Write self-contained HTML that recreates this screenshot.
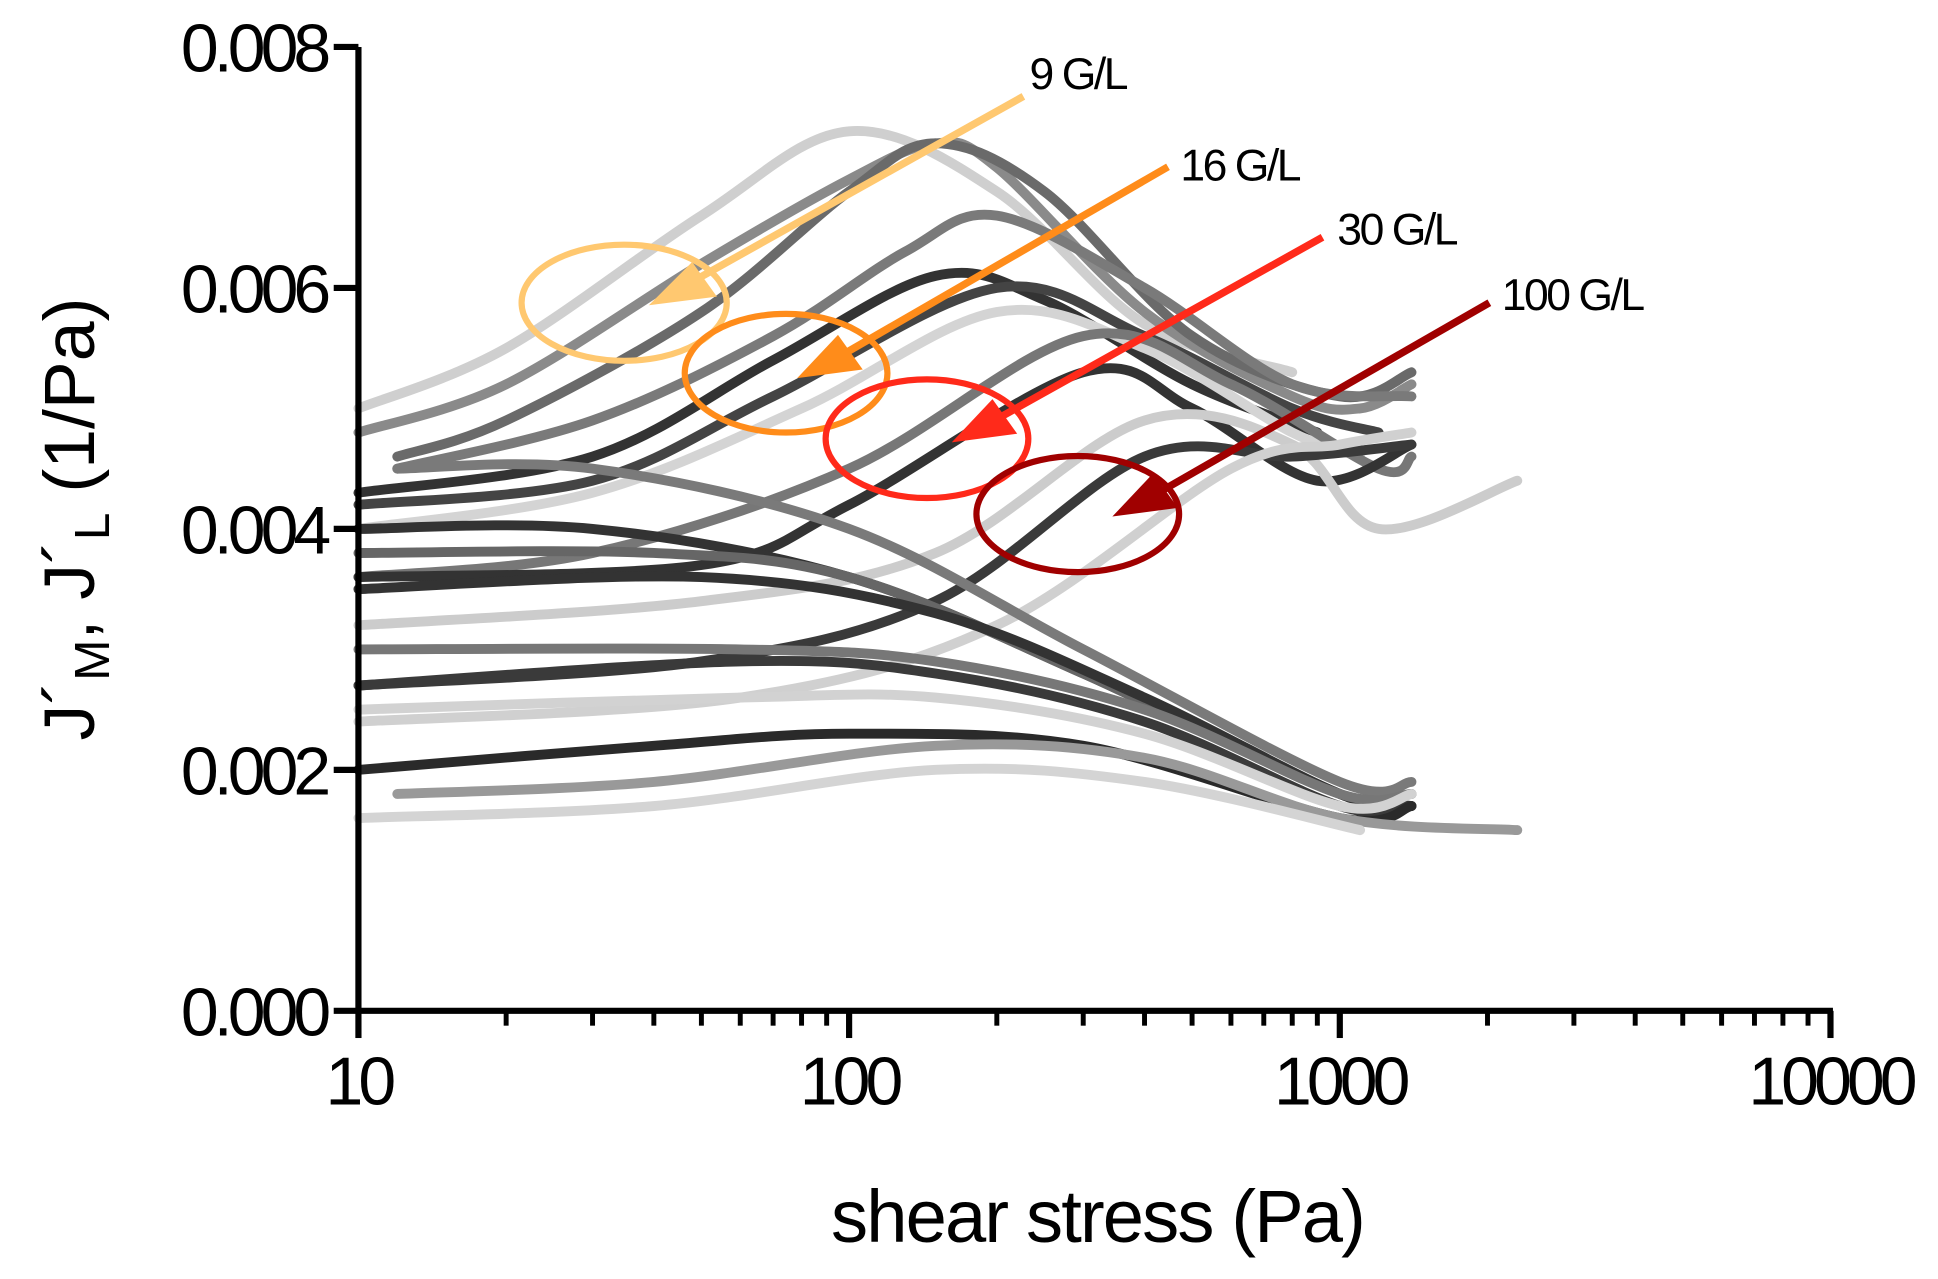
<!DOCTYPE html>
<html><head><meta charset="utf-8"><style>
html,body{margin:0;padding:0;background:#fff;width:1938px;height:1279px;overflow:hidden}
svg{display:block}
text{font-family:"Liberation Sans",Arial,sans-serif;fill:#000}
</style></head><body>
<svg id="chart" width="1938" height="1279" viewBox="0 0 1568 1035" preserveAspectRatio="none" xmlns="http://www.w3.org/2000/svg">
<g id="curves"></g>
<g id="axes"></g>
<g id="annot"></g>
</svg>
<script>
const xTicks=[10,100,1000,10000];
const xTickLabels=["10","100","1000","10000"];
const yTicks=[0,0.002,0.004,0.006,0.008];
const yTickLabels=["0.000","0.002","0.004","0.006","0.008"];
const seriesColors=["#cfcfcf","#8a8a8a","#6a6a6a","#7a7a7a","#333333","#444444","#d4d4d4","#777777","#333333","#cccccc","#3a3a3a","#d0d0d0","#7a7a7a","#333333","#666666","#333333","#777777","#3a3a3a","#d2d2d2","#2a2a2a","#999999","#d4d4d4"];
const seriesX=[
[10,20,50,100,200,400,800],
[10,20,50,100,150,200,400,800,1100,1400],
[12,20,50,100,150,250,500,1000,1400],
[12,30,70,130,200,400,800,1400],
[10,30,70,150,250,500,900],
[10,30,70,200,400,800,1200],
[10,30,80,200,400,800,1100],
[10,30,100,300,600,1200,1400],
[10,50,100,300,500,900,1400],
[10,50,150,400,800,1200,2300],
[10,50,150,400,800,1400],
[10,60,200,600,1000,1400],
[12,30,100,300,1000,1400],
[10,30,100,300,1000,1400],
[10,40,100,300,1000,1400],
[10,50,150,400,1000,1400],
[10,60,150,400,1000,1400],
[10,60,150,400,1000,1400],
[10,60,150,400,1000,1400],
[10,40,100,300,1000,1400],
[12,40,150,400,1000,2300],
[10,40,150,400,1100]];
const seriesY=[
[0.0050,0.0055,0.0066,0.0073,0.0068,0.0057,0.0053],
[0.0048,0.0052,0.0062,0.0069,0.0072,0.0070,0.0058,0.0051,0.0050,0.0052],
[0.0046,0.0049,0.0058,0.0068,0.0072,0.0068,0.0056,0.0051,0.0053],
[0.0045,0.0049,0.0056,0.0063,0.0066,0.0060,0.0052,0.0051],
[0.0043,0.0046,0.0054,0.0061,0.0059,0.0052,0.0048],
[0.0042,0.0044,0.0051,0.0060,0.0056,0.0050,0.0048],
[0.0040,0.0043,0.0050,0.0058,0.0055,0.0048,0.0046],
[0.0036,0.0038,0.0045,0.0056,0.0052,0.0045,0.0046],
[0.0036,0.0037,0.0042,0.0053,0.0050,0.0044,0.0047],
[0.0032,0.0034,0.0038,0.0049,0.0047,0.0040,0.0044],
[0.0027,0.0029,0.0034,0.0046,0.0046,0.0047],
[0.0024,0.0026,0.0032,0.0045,0.0047,0.0048],
[0.0045,0.0045,0.0040,0.0030,0.0019,0.0019],
[0.0040,0.0040,0.0036,0.0028,0.0018,0.0017],
[0.0038,0.0038,0.0036,0.0028,0.0018,0.0018],
[0.0035,0.0036,0.0033,0.0026,0.0018,0.0017],
[0.0030,0.0030,0.0029,0.0025,0.0018,0.0018],
[0.0027,0.0029,0.0028,0.0024,0.0017,0.0017],
[0.0025,0.0026,0.0026,0.0023,0.0017,0.0018],
[0.0020,0.0022,0.0023,0.0022,0.0016,0.0017],
[0.0018,0.0019,0.0022,0.0021,0.0016,0.0015],
[0.0016,0.0017,0.0020,0.0019,0.0015]];

const X0=290,DEC=397,Y0=818,YS=97500;
const xs=v=>X0+DEC*Math.log10(v/10);
const ys=v=>Y0-YS*v;
const NS="http://www.w3.org/2000/svg";
function mk(tag,attrs,parent){const e=document.createElementNS(NS,tag);for(const k in attrs)e.setAttribute(k,attrs[k]);parent.appendChild(e);return e;}
function smooth(p){let d="M"+p[0][0]+","+p[0][1];for(let i=0;i<p.length-1;i++){const a=p[i-1]||p[i],b=p[i],c=p[i+1],e=p[i+2]||c;
const c1=[b[0]+(c[0]-a[0])/6,b[1]+(c[1]-a[1])/6],c2=[c[0]-(e[0]-b[0])/6,c[1]-(e[1]-b[1])/6];
d+=" C"+c1[0]+","+c1[1]+" "+c2[0]+","+c2[1]+" "+c[0]+","+c[1];}return d;}
const gC=document.getElementById('curves');
seriesX.forEach((sx,i)=>{const pts=sx.map((x,j)=>[xs(x),ys(seriesY[i][j])]);
const p=mk('path',{d:smooth(pts),fill:'none',stroke:seriesColors[i],'stroke-width':8,'stroke-linecap':'round','stroke-linejoin':'round'},gC);

});
const gA=document.getElementById('axes');
let a=mk('line',{x1:X0,y1:ys(0.008),x2:X0,y2:Y0+2,stroke:'#000','stroke-width':5},gA);

a=mk('line',{x1:X0-2,y1:Y0,x2:xs(10000)+2,y2:Y0,stroke:'#000','stroke-width':5},gA);

yTicks.forEach((v,i)=>{mk('line',{x1:X0-20,y1:ys(v),x2:X0,y2:ys(v),stroke:'#000','stroke-width':5},gA);
const t=mk('text',{x:X0-26,y:ys(v)+20,'text-anchor':'end','font-size':55,'letter-spacing':-4},gA);t.textContent=yTickLabels[i];
});
for(let d=10;d<10000;d*=10){for(let m=2;m<=9;m++){const x=xs(d*m);mk('line',{x1:x,y1:Y0,x2:x,y2:Y0+12,stroke:'#000','stroke-width':4},gA);}}
xTicks.forEach((v,i)=>{mk('line',{x1:xs(v),y1:Y0,x2:xs(v),y2:Y0+22,stroke:'#000','stroke-width':5},gA);
const t=mk('text',{x:xs(v),y:894,'text-anchor':'middle','font-size':55,'letter-spacing':-4},gA);t.textContent=xTickLabels[i];
});
</script>
<svg style="position:absolute;left:0;top:0" width="1938" height="1279" viewBox="0 0 1568 1035" preserveAspectRatio="none">
<text x="888" y="1005" text-anchor="middle" font-size="60" letter-spacing="-1.5">shear stress (Pa)</text>
<text transform="translate(76,420) rotate(-90)" text-anchor="middle" font-size="58">J´<tspan font-size="40" dy="12">M</tspan><tspan dy="-12">, J´</tspan><tspan font-size="40" dy="12">L</tspan><tspan dy="-12"> (1/Pa)</tspan></text>
<g>
<ellipse cx="505" cy="245" rx="83" ry="47" fill="none" stroke="#FFC870" stroke-width="5"/>
<line x1="828" y1="78" x2="560" y2="228" stroke="#FFC870" stroke-width="6"/>
<polygon points="525,247 560,212 580,240" fill="#FFC870"/>
<text x="833" y="72" font-size="36" letter-spacing="-2">9 G/L</text></g>
<g>
<ellipse cx="636" cy="302" rx="82" ry="48" fill="none" stroke="#FF8C1A" stroke-width="5"/>
<line x1="945" y1="135" x2="680" y2="288" stroke="#FF8C1A" stroke-width="6"/>
<polygon points="645,306 678,271 698,299" fill="#FF8C1A"/>
<text x="955" y="146" font-size="36" letter-spacing="-2">16 G/L</text></g>
<g>
<ellipse cx="750" cy="355" rx="82" ry="48" fill="none" stroke="#FF2A1A" stroke-width="5"/>
<line x1="1070" y1="192" x2="805" y2="340" stroke="#FF2A1A" stroke-width="6"/>
<polygon points="770,358 803,323 823,351" fill="#FF2A1A"/>
<text x="1082" y="198" font-size="36" letter-spacing="-2">30 G/L</text></g>
<g>
<ellipse cx="872" cy="416" rx="82" ry="47" fill="none" stroke="#A00000" stroke-width="5"/>
<line x1="1205" y1="245" x2="935" y2="400" stroke="#A00000" stroke-width="6"/>
<polygon points="900,418 933,383 953,411" fill="#A00000"/>
<text x="1215" y="251" font-size="36" letter-spacing="-2">100 G/L</text></g>
</svg>
</body></html>
